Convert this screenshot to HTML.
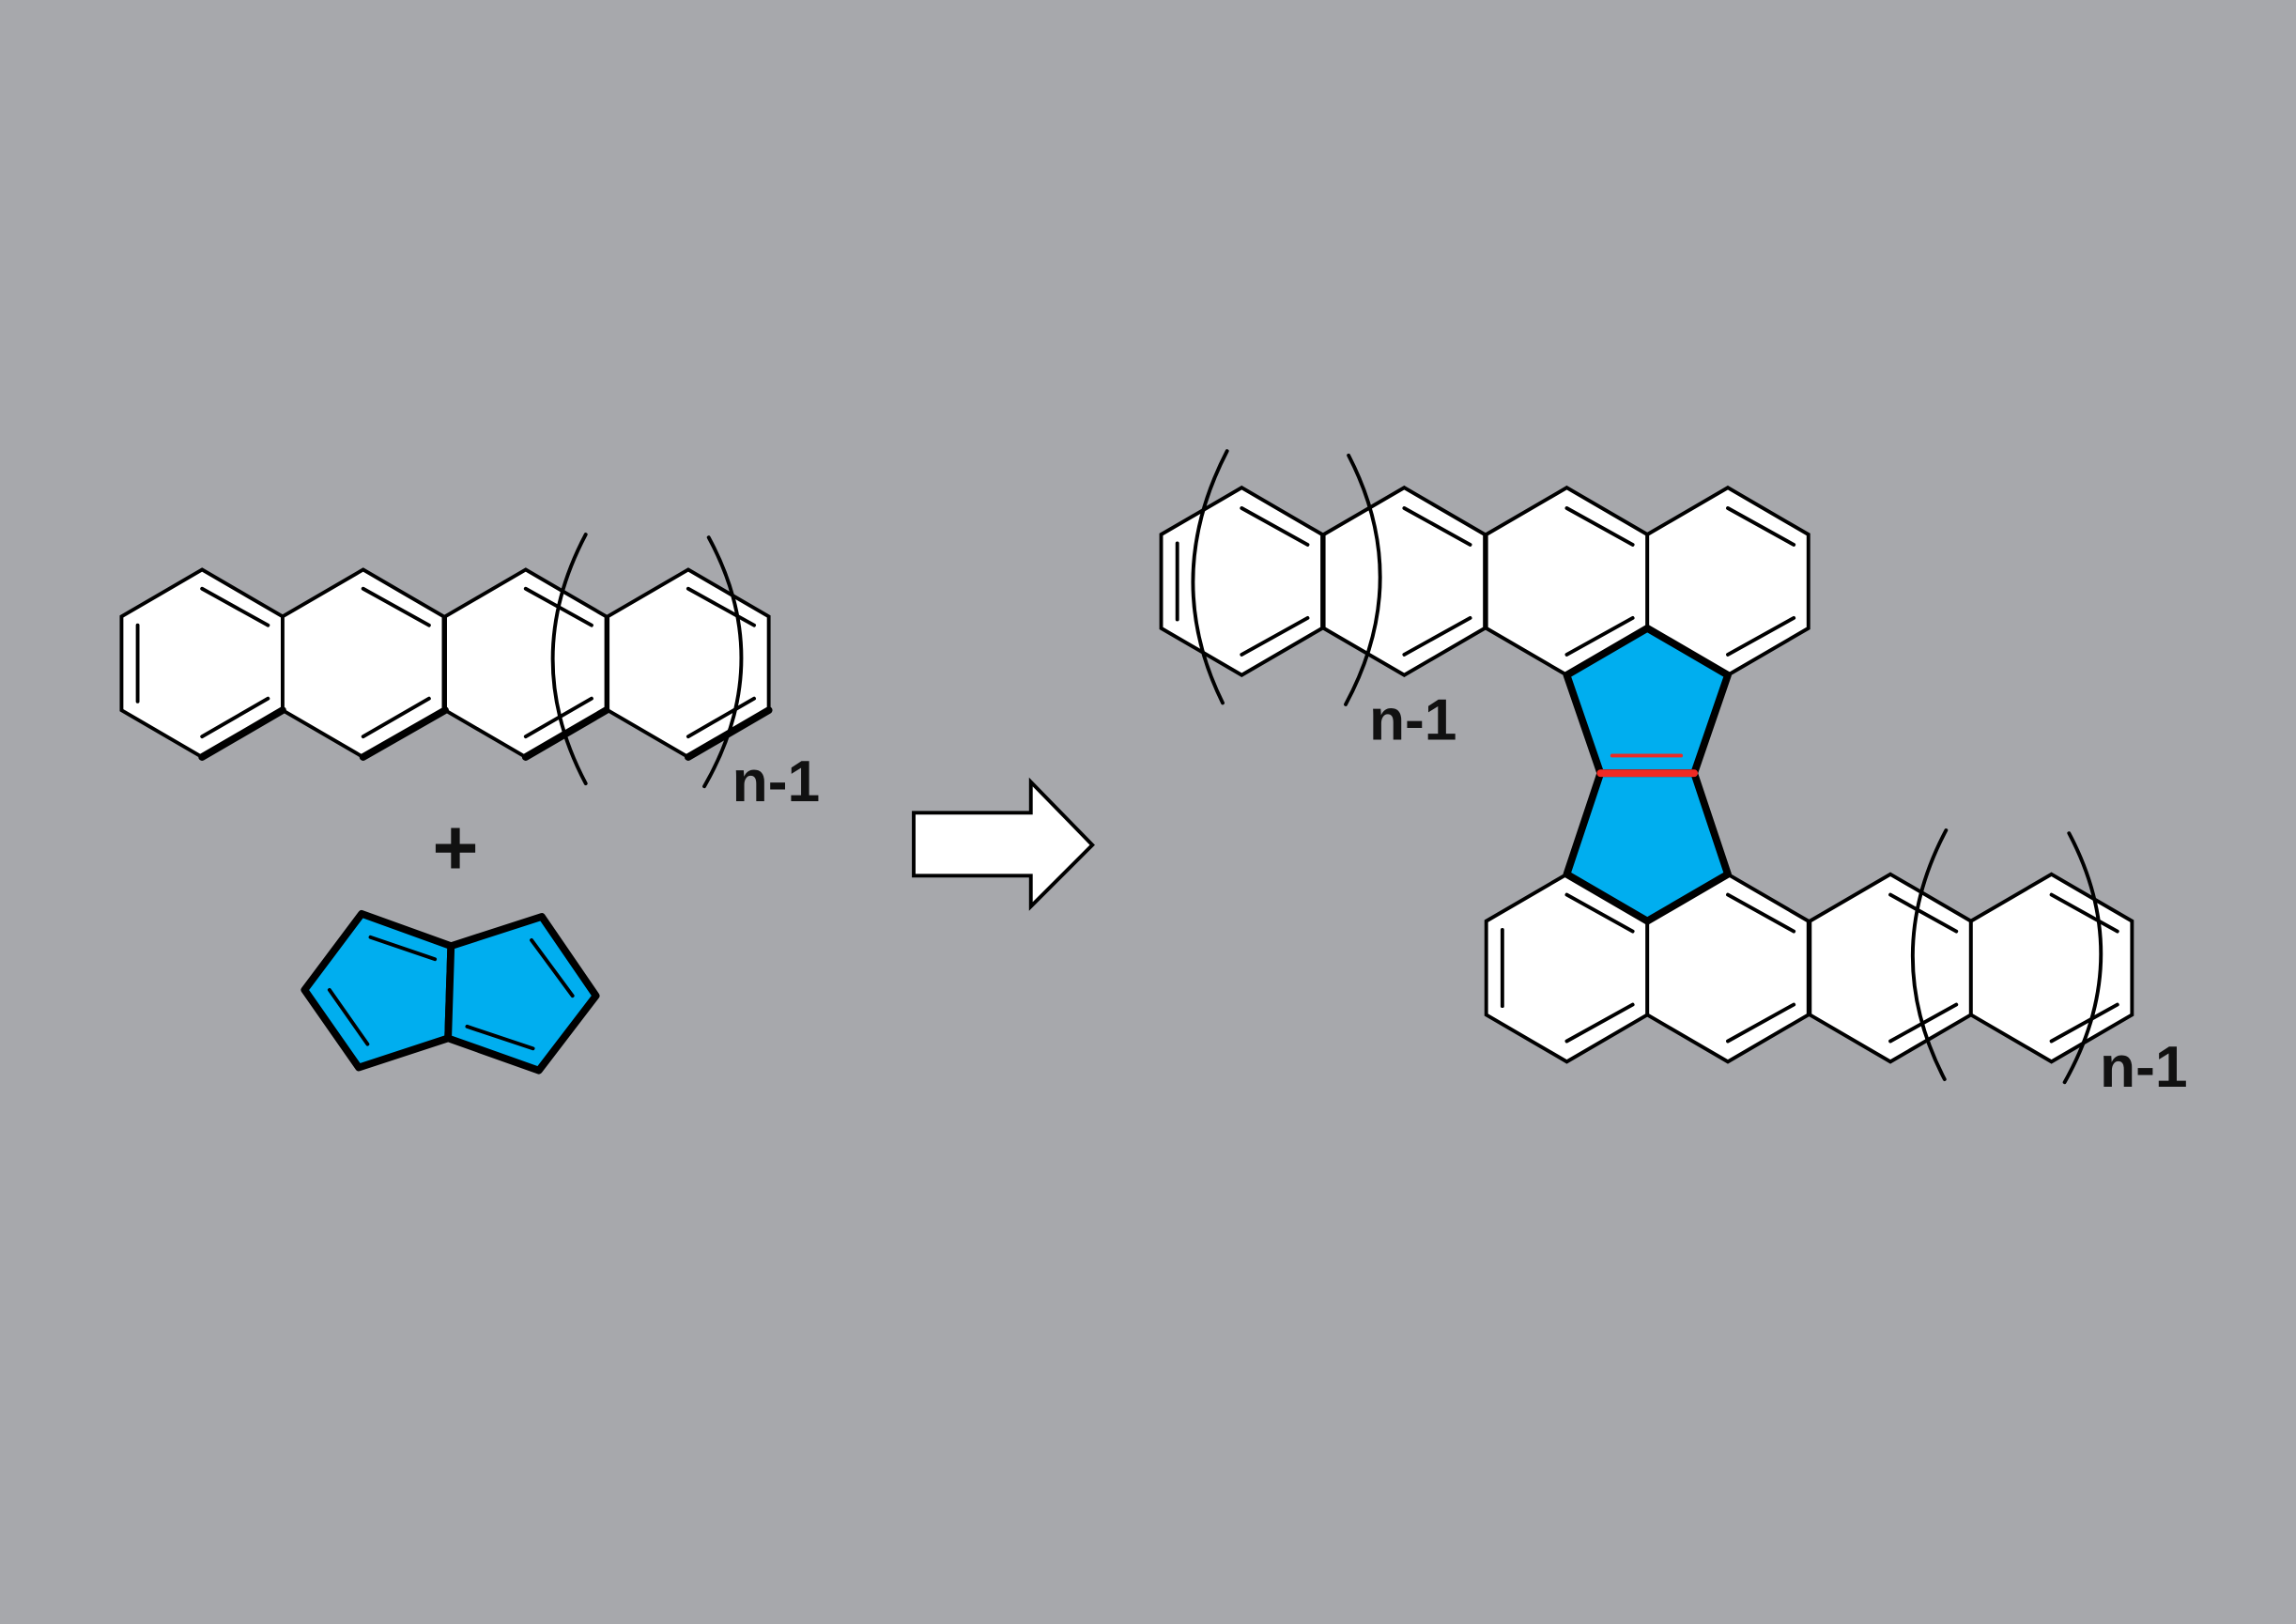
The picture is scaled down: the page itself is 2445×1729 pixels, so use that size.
<!DOCTYPE html>
<html><head><meta charset="utf-8"><style>html,body{margin:0;padding:0;background:#a7a8ac}svg{display:block}</style></head><body>
<svg width="2445" height="1729" viewBox="0 0 1568 1109" preserveAspectRatio="none" xmlns="http://www.w3.org/2000/svg">
<rect width="1568" height="1109" fill="#a7a8ac"/>
<defs>
<g id="hex"><polygon points="0,-64 55,-32 55,32 0,64 -55,32 -55,-32" fill="#fff" stroke="#000" stroke-width="2.5"/></g>
</defs>
<g stroke="#000" stroke-width="2.5" fill="none" stroke-linecap="round">
<use href="#hex" x="138" y="453"/><use href="#hex" x="248" y="453"/><use href="#hex" x="359" y="453"/><use href="#hex" x="470" y="453"/>
<line x1="94" y1="427" x2="94" y2="479"/>
<line x1="138" y1="402" x2="183" y2="427"/><line x1="138" y1="503" x2="183" y2="477"/>
<line x1="248" y1="402" x2="293" y2="427"/><line x1="248" y1="503" x2="293" y2="477"/>
<line x1="359" y1="402" x2="404" y2="427"/><line x1="359" y1="503" x2="404" y2="477"/>
<line x1="470" y1="402" x2="515" y2="427"/><line x1="470" y1="503" x2="515" y2="477"/>
<g stroke-width="5"><line x1="138" y1="517" x2="193" y2="485"/><line x1="248" y1="517" x2="304" y2="485"/><line x1="359" y1="517" x2="414" y2="485"/><line x1="470" y1="517" x2="525" y2="485"/></g>
<path d="M400,365 Q355,450 400,535"/><path d="M484,367 Q530,452 481,537"/>
<polygon points="624,555 704,555 704,534 746,577 704,619 704,598 624,598" fill="#fff"/>
<use href="#hex" x="848" y="397"/><use href="#hex" x="959" y="397"/><use href="#hex" x="1070" y="397"/><use href="#hex" x="1180" y="397"/>
<line x1="804" y1="371" x2="804" y2="423"/>
<line x1="848" y1="347" x2="893" y2="372"/><line x1="848" y1="447" x2="893" y2="422"/>
<line x1="959" y1="347" x2="1004" y2="372"/><line x1="959" y1="447" x2="1004" y2="422"/>
<line x1="1070" y1="347" x2="1115" y2="372"/><line x1="1070" y1="447" x2="1115" y2="422"/>
<line x1="1180" y1="347" x2="1225" y2="372"/><line x1="1180" y1="447" x2="1225" y2="422"/>
<path d="M838,308 Q793,395 835,480"/><path d="M921,311 Q965,396 919,481"/>
<use href="#hex" x="1070" y="661"/><use href="#hex" x="1180" y="661"/><use href="#hex" x="1291" y="661"/><use href="#hex" x="1401" y="661"/>
<line x1="1026" y1="635" x2="1026" y2="687"/>
<line x1="1070" y1="611" x2="1115" y2="636"/><line x1="1070" y1="711" x2="1115" y2="686"/>
<line x1="1180" y1="611" x2="1225" y2="636"/><line x1="1180" y1="711" x2="1225" y2="686"/>
<line x1="1291" y1="611" x2="1336" y2="636"/><line x1="1291" y1="711" x2="1336" y2="686"/>
<line x1="1401" y1="611" x2="1446" y2="636"/><line x1="1401" y1="711" x2="1446" y2="686"/>
<path d="M1329,567 Q1284,652 1328,737"/><path d="M1413,569 Q1458,654 1410,739"/>
<g stroke-width="5" stroke-linejoin="round" fill="#00aeef">
<polygon points="1125,429 1180,461 1157,528 1093,528 1070,461"/>
<polygon points="1093,528 1157,528 1180,597 1125,629 1070,597"/>
<polygon points="247,624 308,646 306,709 245,729 208,676"/>
<polygon points="308,646 370,626 407,680 368,731 306,709"/>
</g>
<line x1="1093" y1="528" x2="1157" y2="528" stroke="#ee2a24" stroke-width="5"/>
<line x1="1101" y1="516" x2="1148" y2="516" stroke="#ee2a24" stroke-width="2.5"/>
<line x1="253" y1="640" x2="297" y2="655"/><line x1="225" y1="676" x2="251" y2="713"/>
<line x1="363" y1="642" x2="391" y2="680"/><line x1="319" y1="701" x2="364" y2="716"/>
</g>
<g font-family="Liberation Sans, sans-serif" font-weight="bold" font-size="40" fill="#111">
<text x="500" y="547">n-1</text>
<text x="935" y="505">n-1</text>
<text x="1434" y="742">n-1</text>
<text x="311" y="597" text-anchor="middle" font-size="54">+</text>
</g>
</svg>
</body></html>
